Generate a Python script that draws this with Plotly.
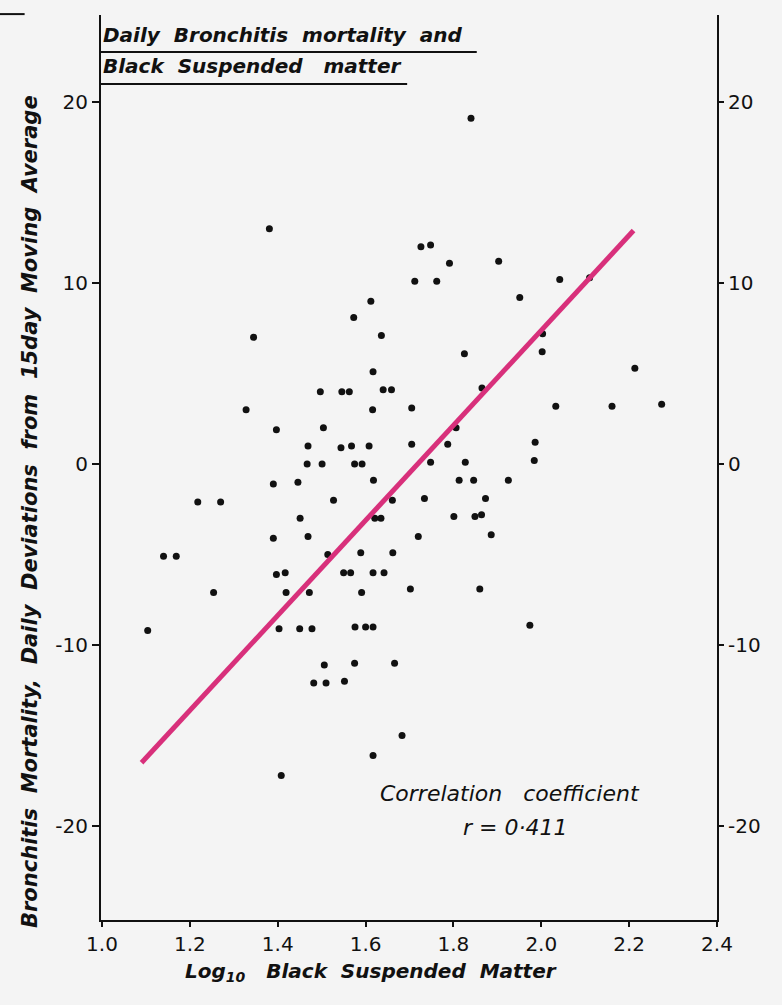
import plotly.graph_objects as go

# Log10 of black suspended matter (x) and daily bronchitis deaths minus
# the 15-day moving average (y), one pair per day.
log_bsm = [
    1.840, 1.381, 1.726, 1.748, 1.791, 1.903, 1.712, 1.762, 2.042, 2.110,
    1.951, 1.612, 1.573, 1.345, 1.636, 2.003, 2.002, 1.825, 2.213, 1.617,
    1.497, 1.546, 1.563, 1.640, 1.659, 1.865, 1.328, 1.616, 1.705, 2.033,
    2.161, 2.274, 1.397, 1.504, 1.806, 1.469, 1.544, 1.568, 1.608, 1.705,
    1.787, 1.986, 1.467, 1.501, 1.575, 1.592, 1.748, 1.827, 1.984, 1.390,
    1.446, 1.618, 1.813, 1.846, 1.925, 1.218, 1.270, 1.527, 1.661, 1.734,
    1.873, 1.451, 1.621, 1.635, 1.801, 1.849, 1.864, 1.390, 1.469, 1.720,
    1.886, 1.140, 1.169, 1.514, 1.589, 1.662, 1.397, 1.417, 1.550, 1.566,
    1.617, 1.642, 1.254, 1.419, 1.472, 1.591, 1.702, 1.860, 1.104, 1.403,
    1.450, 1.478, 1.576, 1.600, 1.617, 1.974, 1.506, 1.575, 1.666, 1.482,
    1.510, 1.552, 1.683, 1.617, 1.408,
]
deviation = [
    19.1, 13.0, 12.0, 12.1, 11.1, 11.2, 10.1, 10.1, 10.2, 10.3,
    9.2, 9.0, 8.1, 7.0, 7.1, 7.2, 6.2, 6.1, 5.3, 5.1,
    4.0, 4.0, 4.0, 4.1, 4.1, 4.2, 3.0, 3.0, 3.1, 3.2,
    3.2, 3.3, 1.9, 2.0, 2.0, 1.0, 0.9, 1.0, 1.0, 1.1,
    1.1, 1.2, 0.0, 0.0, 0.0, 0.0, 0.1, 0.1, 0.2, -1.1,
    -1.0, -0.9, -0.9, -0.9, -0.9, -2.1, -2.1, -2.0, -2.0, -1.9,
    -1.9, -3.0, -3.0, -3.0, -2.9, -2.9, -2.8, -4.1, -4.0, -4.0,
    -3.9, -5.1, -5.1, -5.0, -4.9, -4.9, -6.1, -6.0, -6.0, -6.0,
    -6.0, -6.0, -7.1, -7.1, -7.1, -7.1, -6.9, -6.9, -9.2, -9.1,
    -9.1, -9.1, -9.0, -9.0, -9.0, -8.9, -11.1, -11.0, -11.0, -12.1,
    -12.1, -12.0, -15.0, -16.1, -17.2,
]

# Regression line end points
fit_x = [1.09, 2.21]
fit_y = [-16.5, 12.9]

x_ticks = [1.0, 1.2, 1.4, 1.6, 1.8, 2.0, 2.2, 2.4]
x_tick_labels = ["1.0", "1.2", "1.4", "1.6", "1.8", "2.0", "2.2", "2.4"]
y_ticks = [-20, -10, 0, 10, 20]
y_tick_labels = ["-20", "-10", "0", "10", "20"]

x_range = [0.9977, 2.4]
y_range = [-25.19, 24.81]

BG = "#f4f4f4"
INK = "#111111"
FIT = "#d8307b"
TICK_FONT = dict(family="DejaVu Sans", size=20, color=INK)
LETTER = "DejaVu Sans"
SP = "&nbsp;&nbsp;"

fig = go.Figure()
fig.add_trace(go.Scatter(
    x=log_bsm, y=deviation, mode="markers",
    marker=dict(color=INK, size=7, line=dict(width=0)),
    hoverinfo="x+y",
))
fig.add_trace(go.Scatter(
    x=fit_x, y=fit_y, mode="lines",
    line=dict(color=FIT, width=5),
    hoverinfo="skip",
))
# empty trace so the right-hand axis is rendered
fig.add_trace(go.Scatter(x=[None], y=[None], yaxis="y2", hoverinfo="skip"))

axis_common = dict(
    showline=True, linecolor=INK, linewidth=2,
    ticks="outside", tickcolor=INK, tickwidth=2,
    showgrid=False, zeroline=False, tickfont=TICK_FONT,
)

fig.update_layout(
    width=782, height=1005,
    margin=dict(l=101, r=65, t=15, b=85),
    paper_bgcolor=BG, plot_bgcolor=BG,
    showlegend=False,
    xaxis=dict(range=x_range, tickvals=x_ticks, ticktext=x_tick_labels,
               ticklen=5, **axis_common),
    yaxis=dict(range=y_range, tickvals=y_ticks, ticktext=y_tick_labels,
               ticklen=7, **axis_common),
    yaxis2=dict(range=y_range, tickvals=y_ticks, ticktext=y_tick_labels,
                overlaying="y", side="right", ticklen=5, **axis_common),
)

# underlined heading in the top-left corner
heading_font = dict(family=LETTER, size=20, color=INK)
fig.add_annotation(
    text="<b><i>Daily" + SP + "Bronchitis" + SP + "mortality" + SP + "and</i></b>",
    xref="paper", yref="paper", x=0.0, y=0.978,
    xanchor="left", yanchor="middle", showarrow=False, font=heading_font,
)
fig.add_annotation(
    text="<b><i>Black" + SP + "Suspended" + SP + "&nbsp;matter</i></b>",
    xref="paper", yref="paper", x=0.0, y=0.9436,
    xanchor="left", yanchor="middle", showarrow=False, font=heading_font,
)
fig.add_shape(type="line", xref="paper", yref="paper",
              x0=0.0, x1=0.610, y0=0.959, y1=0.959,
              line=dict(color=INK, width=2))
fig.add_shape(type="line", xref="paper", yref="paper",
              x0=0.0, x1=0.497, y0=0.9238, y1=0.9238,
              line=dict(color=INK, width=2))
# short rule at the very top-left edge
fig.add_shape(type="line", xref="paper", yref="paper",
              x0=-0.164, x1=-0.124, y0=1.001, y1=1.001,
              line=dict(color=INK, width=2))

# axis titles
y_title_words = ["Bronchitis", "Mortality,", "Daily", "Deviations",
                 "from", "15day", "Moving", "Average"]
fig.add_annotation(
    text="<b><i>" + SP.join(y_title_words) + "</i></b>",
    xref="paper", yref="paper", x=-0.115, y=0.451,
    xanchor="center", yanchor="middle", textangle=-90, showarrow=False,
    font=dict(family=LETTER, size=21, color=INK),
)
fig.add_annotation(
    text="<b><i>Log<sub>10</sub>" + SP + "&nbsp;Black" + SP + "Suspended" + SP + "Matter</i></b>",
    xref="paper", yref="paper", x=0.439, y=-0.057,
    xanchor="center", yanchor="middle", showarrow=False,
    font=dict(family=LETTER, size=20, color=INK),
)

# correlation note
fig.add_annotation(
    text="<i>Correlation" + SP + "&nbsp;coefficient</i>",
    xref="paper", yref="paper", x=0.664, y=0.140,
    xanchor="center", yanchor="middle", showarrow=False,
    font=dict(family=LETTER, size=22, color=INK),
)
fig.add_annotation(
    text="<i>r = 0·411</i>",
    xref="paper", yref="paper", x=0.672, y=0.1017,
    xanchor="center", yanchor="middle", showarrow=False,
    font=dict(family=LETTER, size=22, color=INK),
)

fig.write_html("out.html")
